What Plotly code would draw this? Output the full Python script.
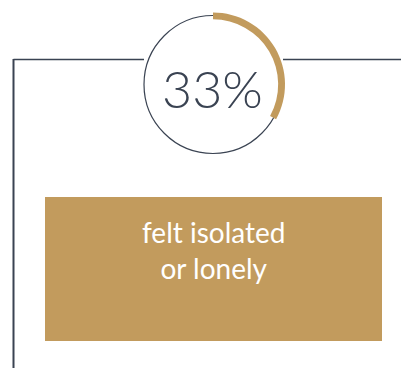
import plotly.graph_objects as go

# Data
percent_value = 33
remainder_value = 100 - percent_value
stat_label = "33%"
caption_lines = ["felt isolated", "or lonely"]

W, H = 401, 368
GOLD = "#c29b5d"
SLATE = "#3a4352"

cx, cy = 213, 84.5
r_out = 72

fig = go.Figure()
fig.add_trace(go.Pie(
    values=[percent_value, remainder_value],
    marker=dict(colors=[GOLD, "rgba(0,0,0,0)"], line=dict(width=0)),
    hole=0.905,
    sort=False,
    direction="clockwise",
    rotation=0,
    textinfo="none",
    hoverinfo="skip",
    showlegend=False,
    domain=dict(x=[(cx - r_out) / W, (cx + r_out) / W],
                y=[(H - cy - r_out) / H, (H - cy + r_out) / H]),
))

shapes = [
    dict(type="circle", xref="x", yref="y", x0=cx - 69, x1=cx + 69, y0=cy - 69, y1=cy + 69,
         line=dict(color=SLATE, width=1.2), layer="below"),
    dict(type="line", xref="x", yref="y", x0=13.5, x1=cx - 69, y0=59.5, y1=59.5,
         line=dict(color=SLATE, width=1.5)),
    dict(type="line", xref="x", yref="y", x0=cx + 70, x1=W, y0=59.5, y1=59.5,
         line=dict(color=SLATE, width=1.5)),
    dict(type="line", xref="x", yref="y", x0=13.5, x1=13.5, y0=59, y1=H,
         line=dict(color=SLATE, width=2)),
    dict(type="rect", xref="x", yref="y", x0=45, x1=382, y0=197, y1=341,
         fillcolor=GOLD, line=dict(width=0)),
]

annotations = [
    dict(x=cx - 1, y=cy + 3, xref="x", yref="y", text=stat_label, showarrow=False,
         font=dict(family="Lato", size=52, color=SLATE, weight=300), xanchor="center", yanchor="middle"),
    dict(x=cx, y=250, xref="x", yref="y", text="<br>".join(caption_lines), showarrow=False,
         font=dict(family="Lato", size=28, color="white", weight=400), xanchor="center", yanchor="middle"),
]

fig.update_layout(
    width=W, height=H, margin=dict(l=0, r=0, t=0, b=0),
    paper_bgcolor="white", plot_bgcolor="white",
    xaxis=dict(range=[0, W], visible=False, fixedrange=True),
    yaxis=dict(range=[H, 0], visible=False, fixedrange=True),
    shapes=shapes, annotations=annotations,
)

fig.write_html("out.html", config=dict(displayModeBar=False))
